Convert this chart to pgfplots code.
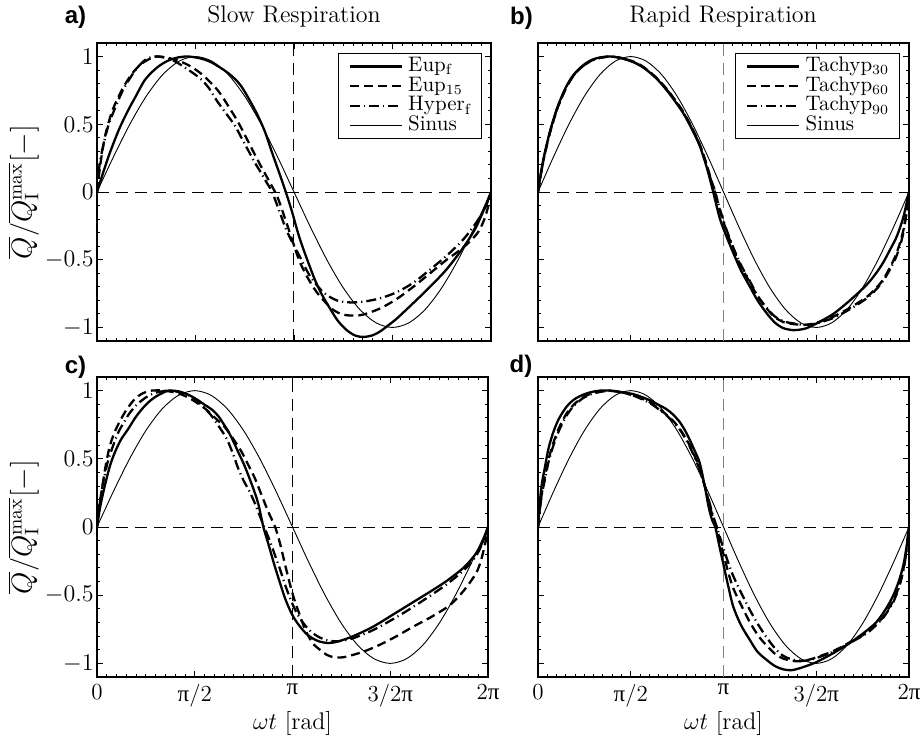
\documentclass[border=0pt]{standalone}
\usepackage{fontspec}
\usepackage{pgfplots}
\usepackage{pgfplotstable}
\pgfplotsset{compat=1.18}
\newfontfamily\pifont{Liberation Serif}
\newfontfamily\lsans{Liberation Sans}

% Sinus als Referenz (Grad, Wert)
\pgfplotstableread{
x y
0 0
15 0.2588
30 0.5
45 0.7071
60 0.8660
75 0.9659
90 1
105 0.9659
120 0.8660
135 0.7071
150 0.5
165 0.2588
180 0
195 -0.2588
210 -0.5
225 -0.7071
240 -0.8660
255 -0.9659
270 -1
285 -0.9659
300 -0.8660
315 -0.7071
330 -0.5
345 -0.2588
360 0
}\sinus

% gemeinsame Einstellungen der vier Felder
\pgfplotsset{
  panel/.style={
    scale only axis, height=149pt,
    xmin=0, xmax=360, ymin=-1.1, ymax=1.1,
    xtick={0,90,180,270,360}, ytick={-1,-0.5,0,0.5,1},
    minor x tick num=9, minor y tick num=4,
    tick align=inside, major tick length=2.8pt, minor tick length=1.5pt,
    axis line style={line width=0.6pt},
    every tick/.style={black, line width=0.45pt},
    ticklabel style={font=\fontsize{11.5}{13}\selectfont},
    yticklabel style={inner sep=1.5pt},
    xlabel style={font=\fontsize{12}{14}\selectfont, yshift=4.5pt},
    ylabel style={font=\fontsize{14}{16}\selectfont, yshift=-2pt},
    legend cell align=left,
    legend image code/.code={\draw[#1] (0pt,0pt) -- (26pt,0pt);},
    legend style={at={(1,1)}, anchor=north east, xshift=-4.5pt, yshift=-5pt,
      font=\fontsize{10.5}{10.5}\selectfont, draw=black, line width=0.5pt,
      inner xsep=5pt, inner ysep=1.5pt,
      /tikz/every odd column/.append style={column sep=2.5pt},
      nodes={inner sep=0.2pt, text height=7.2pt, text depth=2.3pt}},
  },
  pitick/.style={xticklabels={0, {{\pifont π}/2}, {\pifont π}, {3/2{\pifont π}}, {2{\pifont π}}}},
  ref/.style={black, line width=0.5pt, dash pattern=on 6pt off 3.5pt, forget plot},
  refv/.style={line width=0.5pt, dash pattern=on 6pt off 3.5pt, forget plot},
  solidS/.style={black, line width=1.15pt, smooth},
  dashS/.style={black, line width=1.15pt, dash pattern=on 4.5pt off 2.5pt, smooth},
  dotS/.style={black, line width=1.15pt, dash pattern=on 5pt off 2pt on 0.6pt off 2pt, smooth},
  sinS/.style={black, line width=0.45pt, smooth},
}

\begin{document}
\begin{tikzpicture}
\useasboundingbox (-48.5pt,-31.5pt) rectangle (413.5pt,338.5pt);

% a) Slow Respiration
\begin{axis}[panel, width=197pt, at={(0pt,168pt)}, anchor=south west,
  xticklabels={}, ylabel={$\overline{Q}/\overline{Q_{\mathrm{I}}^{\mathrm{max}}}[-]$}]
\addplot[ref] coordinates {(0,0) (360,0)};
\addplot[refv, black] coordinates {(180,-1.1) (180,1.1)};
\addplot[solidS] coordinates {(0,0) (10,0.25) (20,0.46) (28.6,0.605) (35,0.70) (44,0.83) (55,0.92) (65,0.97) (75,0.995) (84,1.0) (95,0.985) (105,0.955) (120,0.877) (131,0.79) (141,0.655) (147.4,0.556) (153.5,0.444) (160,0.29) (167,0.13) (172.5,0) (178,-0.14) (185.5,-0.35) (197.7,-0.62) (205,-0.75) (212.9,-0.86) (220,-0.95) (228.2,-1.02) (236,-1.06) (243.3,-1.07) (251,-1.06) (258.6,-1.03) (266,-0.985) (273.8,-0.935) (289,-0.82) (304.3,-0.70) (319.5,-0.57) (334.7,-0.41) (345,-0.28) (352,-0.16) (360,0)};
\addlegendentry{Eup$_{\mathrm{f}}$}
\addplot[dashS] coordinates {(0,0) (3,0.2) (7.3,0.41) (14,0.6) (22.5,0.75) (30,0.85) (37,0.92) (45,0.97) (54.5,1.0) (65,0.99) (77.4,0.96) (87,0.92) (95.7,0.87) (103,0.815) (110.9,0.745) (118,0.66) (126,0.556) (132,0.47) (138.3,0.37) (144,0.28) (150.5,0.18) (158,0.07) (165,-0.04) (172,-0.2) (179.4,-0.38) (185,-0.51) (191.6,-0.62) (200.8,-0.74) (212.9,-0.85) (220,-0.89) (228.2,-0.91) (236,-0.912) (243.3,-0.905) (258.6,-0.86) (273.8,-0.79) (289,-0.70) (304.3,-0.60) (319.5,-0.50) (334.7,-0.41) (347,-0.31) (353,-0.22) (357,-0.12) (360,0)};
\addlegendentry{Eup$_{15}$}
\addplot[dotS] coordinates {(0,0) (2,0.18) (4.8,0.31) (10,0.48) (17,0.63) (23,0.74) (29,0.825) (36,0.91) (44,0.975) (52,1.0) (60,0.995) (70,0.97) (82,0.91) (94,0.84) (102,0.77) (109,0.68) (117,0.59) (126,0.49) (132,0.40) (138,0.31) (144,0.22) (150,0.14) (155,0.07) (160,0) (167,-0.15) (173,-0.28) (179,-0.38) (185.5,-0.48) (194.6,-0.62) (206.8,-0.74) (219,-0.80) (231,-0.815) (243,-0.81) (258.6,-0.785) (273.8,-0.74) (289,-0.67) (304,-0.575) (319.5,-0.47) (334.7,-0.35) (347,-0.22) (355,-0.11) (360,0)};
\addlegendentry{Hyper$_{\mathrm{f}}$}
\addplot[sinS] table {\sinus};
\addlegendentry{Sinus}
\end{axis}

% b) Rapid Respiration
\begin{axis}[panel, width=185.5pt, at={(220.5pt,168pt)}, anchor=south west,
  xticklabels={}, yticklabels={}]
\addplot[ref] coordinates {(0,0) (360,0)};
\addplot[refv, gray] coordinates {(180,-1.1) (180,1.1)};
\addplot[solidS] coordinates {(0,0) (3,0.15) (6,0.27) (11.3,0.44) (16,0.56) (20,0.65) (27.5,0.78) (35,0.87) (43.7,0.935) (52,0.975) (60,0.993) (70,1.0) (80,0.99) (92,0.96) (100,0.93) (108,0.885) (116,0.83) (124.5,0.755) (132,0.68) (140.7,0.585) (149,0.47) (157,0.34) (163,0.2) (167,0.09) (170,0) (176.6,-0.2) (183,-0.33) (189.5,-0.45) (197,-0.58) (205.7,-0.70) (213,-0.80) (221.9,-0.895) (230,-0.965) (238,-1.005) (247.7,-1.02) (255,-1.015) (260.7,-1.005) (270.4,-0.97) (286.5,-0.90) (302.7,-0.80) (318.9,-0.685) (328,-0.60) (335,-0.52) (342,-0.42) (348,-0.33) (354,-0.20) (358,-0.07) (360,0)};
\addlegendentry{Tachyp$_{30}$}
\addplot[dashS] coordinates {(0,0) (3,0.14) (6,0.26) (11.3,0.43) (16,0.55) (20,0.64) (27.5,0.77) (35,0.865) (43.7,0.93) (52,0.97) (60,0.99) (70,1.0) (80,0.99) (92,0.965) (100,0.935) (108,0.89) (116,0.835) (124.5,0.765) (132,0.69) (140.7,0.595) (149,0.48) (157,0.35) (163,0.22) (168,0.09) (172,0) (176.6,-0.14) (183,-0.29) (189.5,-0.42) (197,-0.55) (205.7,-0.67) (213,-0.77) (221.9,-0.86) (230,-0.925) (238,-0.96) (247.7,-0.975) (255,-0.98) (260.7,-0.98) (270.4,-0.965) (286.5,-0.92) (302.7,-0.855) (318.9,-0.775) (328,-0.71) (335,-0.645) (342,-0.55) (348,-0.45) (354,-0.30) (358,-0.12) (360,0)};
\addlegendentry{Tachyp$_{60}$}
\addplot[dotS] coordinates {(0,0) (3,0.14) (6,0.26) (11.3,0.43) (16,0.555) (20,0.645) (27.5,0.775) (35,0.865) (43.7,0.93) (52,0.97) (60,0.99) (70,1.0) (80,0.99) (92,0.962) (100,0.93) (108,0.886) (116,0.832) (124.5,0.76) (132,0.685) (140.7,0.59) (149,0.475) (157,0.345) (163,0.21) (168,0.085) (172,-0.01) (176.6,-0.13) (183,-0.28) (189.5,-0.41) (197,-0.54) (205.7,-0.66) (213,-0.765) (221.9,-0.855) (230,-0.92) (238,-0.955) (247.7,-0.97) (255,-0.978) (260.7,-0.98) (270.4,-0.97) (286.5,-0.93) (302.7,-0.865) (318.9,-0.785) (328,-0.72) (335,-0.655) (342,-0.565) (348,-0.47) (354,-0.32) (358,-0.13) (360,0)};
\addlegendentry{Tachyp$_{90}$}
\addplot[sinS] table {\sinus};
\addlegendentry{Sinus}
\end{axis}

% c)
\begin{axis}[panel, width=195.5pt, height=150pt, at={(0pt,0pt)}, anchor=south west,
  pitick, xlabel={$\omega t$ [rad]},
  ylabel={$\overline{Q}/\overline{Q_{\mathrm{I}}^{\mathrm{max}}}[-]$}]
\addplot[ref] coordinates {(0,0) (360,0)};
\addplot[refv, black] coordinates {(180,-1.1) (180,1.1)};
\addplot[solidS] coordinates {(0,0) (3,0.15) (7.4,0.31) (12,0.45) (16.6,0.55) (22,0.64) (28.8,0.72) (36,0.81) (44.2,0.89) (52,0.945) (59.6,0.98) (65.7,1.0) (75,0.995) (84.1,0.97) (92,0.935) (99.4,0.895) (106,0.86) (112,0.81) (117,0.75) (121,0.70) (126,0.62) (130,0.55) (135,0.465) (139.3,0.38) (144,0.28) (148.5,0.17) (153.2,0) (158,-0.13) (163,-0.27) (168.5,-0.41) (173,-0.52) (177.7,-0.61) (182,-0.675) (186.9,-0.73) (193,-0.785) (199.2,-0.82) (205,-0.84) (211.5,-0.85) (217,-0.848) (223.8,-0.835) (236,-0.80) (254.4,-0.73) (276,-0.625) (291.3,-0.55) (306.6,-0.475) (322,-0.395) (337.3,-0.30) (346.5,-0.22) (352,-0.155) (355.7,-0.10) (360,0)};
\addplot[dashS] coordinates {(0,0) (2,0.15) (5,0.30) (8,0.45) (12,0.6) (17,0.71) (22.7,0.8) (28,0.87) (35,0.94) (42,0.98) (50,1.0) (62,1.0) (74.9,0.98) (84,0.95) (90.2,0.92) (100,0.865) (108.7,0.80) (117.9,0.73) (126,0.64) (133.2,0.55) (139,0.46) (145.5,0.355) (151.5,0.235) (157.8,0.11) (164,0) (168.5,-0.12) (173,-0.27) (177.7,-0.42) (182,-0.54) (186.9,-0.65) (191,-0.74) (196,-0.82) (200,-0.865) (205.3,-0.90) (211,-0.935) (217.6,-0.955) (224,-0.957) (230,-0.95) (245,-0.915) (260,-0.865) (276,-0.80) (291.3,-0.73) (306.6,-0.665) (322,-0.59) (330,-0.535) (337.3,-0.47) (344,-0.40) (349.6,-0.33) (353,-0.26) (355.7,-0.18) (358.5,-0.08) (360,0)};
\addplot[dotS] coordinates {(0,0) (2,0.14) (5,0.30) (10,0.48) (15,0.60) (20,0.70) (25,0.77) (30,0.835) (37,0.90) (45,0.95) (52,0.98) (60,0.995) (68,1.0) (80,0.98) (90,0.94) (99.4,0.87) (106,0.81) (112,0.74) (117,0.68) (121,0.62) (126,0.52) (130,0.43) (135,0.34) (140.5,0.26) (145,0.18) (150,0.08) (155,-0.02) (160,-0.12) (164,-0.21) (168.5,-0.31) (173,-0.42) (177.7,-0.52) (182,-0.60) (186.9,-0.67) (193,-0.735) (199,-0.78) (205,-0.81) (211.5,-0.83) (218,-0.838) (225,-0.835) (236,-0.815) (254.4,-0.755) (276,-0.66) (291.3,-0.585) (306.6,-0.505) (322,-0.42) (337.3,-0.32) (346.5,-0.24) (352,-0.17) (356,-0.09) (360,0)};
\addplot[sinS] table {\sinus};
\end{axis}

% d)
\begin{axis}[panel, width=185.5pt, height=150pt, at={(220.5pt,0pt)}, anchor=south west,
  pitick, yticklabels={}, xlabel={$\omega t$ [rad]}]
\addplot[ref] coordinates {(0,0) (360,0)};
\addplot[refv, gray] coordinates {(180,-1.1) (180,1.1)};
\addplot[solidS] coordinates {(0,0) (2,0.2) (4,0.33) (6.5,0.43) (10,0.57) (14.6,0.69) (20,0.79) (27.5,0.88) (35,0.935) (43.7,0.97) (52,0.99) (60,1.0) (70,1.0) (80,0.99) (92.2,0.975) (100,0.955) (108.4,0.93) (116,0.90) (124.5,0.865) (131,0.825) (137.5,0.77) (142.5,0.71) (147.2,0.64) (152,0.56) (156.9,0.47) (161.8,0.3) (165.5,0.15) (169,0.05) (172,0) (176,-0.14) (179.8,-0.27) (184.5,-0.43) (189.5,-0.585) (197,-0.72) (205.7,-0.83) (213,-0.915) (221.9,-0.975) (230,-1.02) (238,-1.044) (246,-1.05) (254.2,-1.035) (262,-1.015) (270.4,-0.99) (286.5,-0.925) (302.7,-0.85) (318.9,-0.76) (328,-0.70) (335,-0.63) (340,-0.57) (344.8,-0.50) (350,-0.40) (354.5,-0.28) (357.5,-0.15) (360,0)};
\addplot[dashS] coordinates {(0,0) (2,0.15) (4,0.26) (6.5,0.36) (10,0.49) (14.6,0.61) (20,0.72) (27.5,0.83) (35,0.90) (43.7,0.95) (52,0.98) (60,0.995) (68,1.0) (80,0.99) (92.2,0.965) (100,0.945) (108.4,0.915) (116,0.875) (124.5,0.825) (131,0.78) (137.5,0.72) (142.5,0.66) (147.2,0.60) (152,0.52) (156.9,0.43) (161.8,0.3) (166,0.18) (170,0.06) (173,0) (176,-0.08) (180,-0.2) (184.5,-0.33) (189.5,-0.45) (197.6,-0.58) (205.7,-0.70) (214,-0.80) (221.9,-0.87) (230,-0.93) (238,-0.965) (246,-0.98) (254.2,-0.985) (262,-0.975) (270.4,-0.955) (286.5,-0.91) (302.7,-0.845) (318.9,-0.775) (328,-0.715) (335,-0.66) (340,-0.60) (344.8,-0.54) (350,-0.44) (354.5,-0.31) (357.5,-0.17) (360,0)};
\addplot[dotS] coordinates {(0,0) (2,0.14) (4,0.25) (6.5,0.34) (10,0.47) (14.6,0.59) (20,0.70) (27.5,0.815) (35,0.89) (43.7,0.945) (52,0.975) (60,0.99) (70,1.0) (80,0.99) (92.2,0.965) (100,0.94) (108.4,0.91) (116,0.87) (124.5,0.82) (131,0.77) (137.5,0.715) (142.5,0.655) (147.2,0.59) (152,0.51) (156.9,0.42) (161.8,0.3) (166,0.19) (170,0.08) (174,-0.01) (178,-0.11) (184.5,-0.26) (189.5,-0.36) (197.6,-0.49) (205.7,-0.61) (214,-0.72) (221.9,-0.81) (230,-0.89) (238,-0.945) (246,-0.97) (254.2,-0.98) (262,-0.978) (270.4,-0.96) (286.5,-0.915) (302.7,-0.85) (318.9,-0.78) (328,-0.72) (335,-0.665) (340,-0.61) (344.8,-0.55) (350,-0.45) (354.5,-0.32) (357.5,-0.18) (360,0)};
\addplot[sinS] table {\sinus};
\end{axis}

% Titel und Feldbuchstaben
\node[anchor=base, font=\fontsize{12}{14}\selectfont] at (98.5pt,327pt) {Slow Respiration};
\node[anchor=base, font=\fontsize{12}{14}\selectfont] at (313pt,327pt) {Rapid Respiration};
\node[font=\lsans\bfseries\fontsize{12}{12}\selectfont] at (-10.75pt,330pt) {a)};
\node[font=\lsans\bfseries\fontsize{12}{12}\selectfont] at (212.25pt,329.5pt) {b)};
\node[font=\lsans\bfseries\fontsize{12}{12}\selectfont] at (-10.75pt,155pt) {c)};
\node[font=\lsans\bfseries\fontsize{12}{12}\selectfont] at (212pt,155.25pt) {d)};
\end{tikzpicture}
\end{document}
